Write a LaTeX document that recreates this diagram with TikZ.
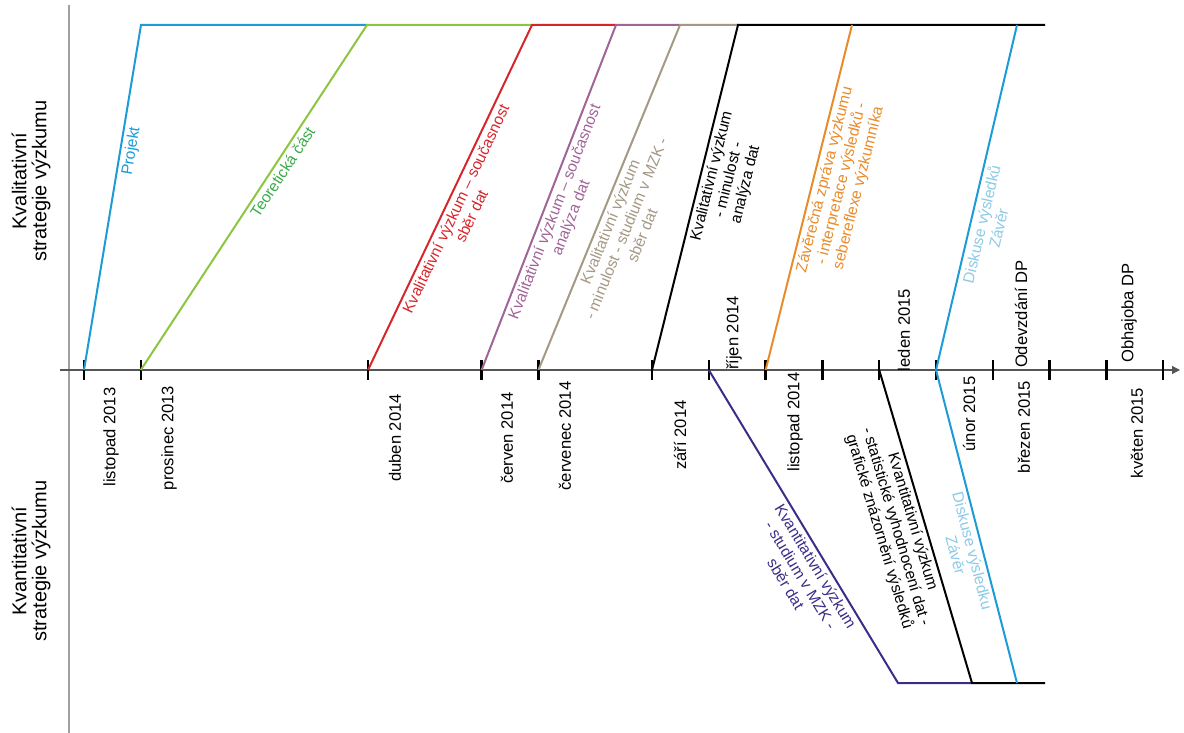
\documentclass[tikz,border=0pt]{standalone}
\usepackage{fontspec}
\setmainfont{Liberation Sans}
\usetikzlibrary{arrows.meta}

\definecolor{projblue}{RGB}{28,155,215}
\definecolor{teorgreen}{RGB}{140,198,63}
\definecolor{teortext}{RGB}{60,170,75}
\definecolor{sberred}{RGB}{215,38,43}
\definecolor{analmauve}{RGB}{160,100,150}
\definecolor{minultan}{RGB}{165,152,132}
\definecolor{zavorange}{RGB}{233,139,42}
\definecolor{disktext}{RGB}{140,202,230}
\definecolor{kvantindigo}{RGB}{58,45,135}
\definecolor{axisgray}{RGB}{85,85,85}

\begin{document}
\begin{tikzpicture}[x=0.5pt, y=-0.5pt,
		phase/.style={line width=1pt, line join=miter},
		lbl/.style={sloped, below, align=center, inner sep=1.5pt, font=\fontsize{7.8}{8.7}\selectfont},
		month/.style={rotate=90, inner sep=0pt, font=\fontsize{8.3}{9}\selectfont},
		side/.style={rotate=90, align=center, font=\fontsize{10}{10}\selectfont},
		tickmark/.style={line width=1.2pt, black}]
			\useasboundingbox (0,0) rectangle (1184,733);
			
			% DRAW AXIS
			\coordinate (vtop) at (69,5); \coordinate (vbot) at (69,733);
			\coordinate (osa0) at (60,370); \coordinate (osa1) at (1180,370);
			\draw[line width=0.75pt, gray!75] (vtop)--(vbot);
			\draw[axisgray, line width=0.6pt, -{Triangle[length=4pt,width=4pt]}] (osa0)--(osa1);
			\foreach \m in {0,1,5,7,8,10,11,12,13,14,15,16,17,18,19} {
				\coordinate (m\m) at ({84+56.8*\m},370);
				\draw[tickmark] (m\m) ++(0,-10)--++(0,20);
			}
			
			% corners of the phases
			\coordinate (h1) at (141,25); \coordinate (h2) at (367,25);
			\coordinate (h3) at (532,25); \coordinate (h4) at (616,25);
			\coordinate (h5) at (680,25); \coordinate (h6) at (738,25);
			\coordinate (h7) at (852,25); \coordinate (h8) at (1017,25);
			\coordinate (hend) at (1045,25);
			\coordinate (d1) at (898,683); \coordinate (d2) at (972,683);
			\coordinate (d3) at (1017,683); \coordinate (dend) at (1045,683);
			
			% DRAW PHASES (kvalitativni)
			\draw[phase, projblue] (m0)-- node[lbl, pos=.64, text=projblue] (projekt) {Projekt} (h1)--(h2);
			\draw[phase, teorgreen] (m1)-- node[lbl, pos=.59, text=teortext] (teorie) {Teoretická část} (h2)--(h3);
			\draw[phase, sberred] (m5)-- node[lbl, pos=.48] (sber) {Kvalitativní výzkum – současnost\\sběr dat} (h3)--(h4);
			\draw[phase, analmauve] (m7)-- node[lbl, pos=.47] (analyza) {Kvalitativní výzkum – současnost\\analýza dat} (h4)--(h5);
			\draw[phase, minultan] (m8)-- node[lbl, pos=.44] (mzk) {Kvalitativní výzkum\\- minulost - studium v MZK -\\sběr dat} (h5)--(h6);
			\draw[phase, black] (m10)-- node[lbl, pos=.57] (minulost) {Kvalitativní výzkum\\- minulost -\\analýza dat} (h6)--(hend);
			\draw[phase, zavorange] (m12)-- node[lbl, pos=.56] (zprava) {Závěrečná zpráva výzkumu\\- interpretace výsledků -\\sebereflexe výzkumníka} (h7);
			\draw[phase, projblue] (m15)-- node[lbl, pos=.43, text=disktext] (diskuse) {Diskuse výsledků\\Závěr} (h8);
			
			% DRAW PHASES (kvantitativni)
			\draw[phase, kvantindigo] (m11)-- node[lbl, pos=.61] (kvsber) {Kvantitativní výzkum\\- studium v MZK -\\sběr dat} (d1)--(d2);
			\draw[phase, black] (m14)-- node[lbl, pos=.475] (kvstat) {Kvantitativní výzkum\\- statistické vyhodnocení dat -\\grafické znázornění výsledků} (d2)--(dend);
			\draw[phase, projblue] (m15)-- node[lbl, pos=.57, text=disktext] (kvdisk) {Diskuse výsledku\\Závěr} (d3);
			
			% DRAW MONTHS
			\foreach \x/\y/\t in {111/437/listopad 2013, 169/438/prosinec 2013, 395/438/duben 2014,
				507/438/červen 2014, 565/436/červenec 2014, 680/435/září 2014, 795/422/listopad 2014,
				969/414/únor 2015, 1024/427/březen 2015, 1137/433/květen 2015,
				734/333/říjen 2014, 904/330/leden 2015, 1021/314/Odevzdání DP, 1129/313/Obhajoba DP}
				\node[month] (ml\x) at (\x,\y) {\t};
			
			% DRAW STRATEGIES
			\node[side] (kval) at (31,181) {Kvalitativní\\strategie výzkumu};
			\node[side] (kvant) at (31,561) {Kvantitativní\\strategie výzkumu};
		\end{tikzpicture}
\end{document}
